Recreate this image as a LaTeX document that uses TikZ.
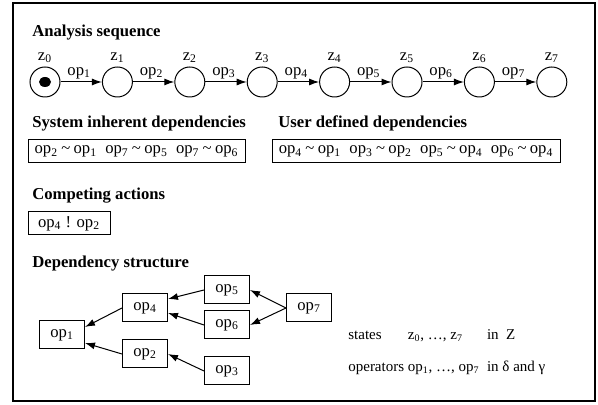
\documentclass[tikz,border=0pt]{standalone}
\usepackage{fontspec}
\setmainfont{Liberation Serif}
\usetikzlibrary{arrows.meta}

\newcommand{\opi}[1]{op\textsubscript{#1}}
\newcommand{\rel}{\hspace{0.2em}\textasciitilde\hspace{0.2em}}
\newcommand{\gap}{\hspace{0.5em}}

\tikzset{
  state/.style={draw, circle, minimum size=18pt, inner sep=0pt, line width=0.6pt},
  head/.style={anchor=base west, inner sep=0pt, font=\bfseries},
  depbox/.style={draw, line width=0.6pt, minimum height=13.8pt, inner sep=2pt},
  opbox/.style={draw, line width=0.6pt, minimum width=27pt, minimum height=16.8pt, inner sep=2pt},
  dep/.style={-{Latex[length=6pt,width=4.2pt]}, line width=0.6pt},
}

\begin{document}
\begin{tikzpicture}[x=0.6pt, y=-0.6pt]
  \useasboundingbox (0,0) rectangle (598,405);
  \draw[line width=1.2pt] (13,3) rectangle (595,401);

  \node[head] (hseq) at (32,37) {Analysis sequence};
  \foreach \i in {0,...,7}
    \node[state, label={[inner sep=2pt]above:z\textsubscript{\i}}] (z\i) at ({45+72.4*\i},82) {};
  \fill (z0) ellipse (6 and 5);
  \foreach \i [count=\j] in {0,...,6}
    \draw[dep] (z\i) -- (z\j) node[pos=0.45, above, inner sep=1.5pt] {\opi{\j}};

  \node[head] (hsys) at (32,128) {System inherent dependencies};
  \node[depbox, minimum width=130.2pt] (sys) at (136.5,151.5)
    {\opi{2}\rel\opi{1}\gap\opi{7}\rel\opi{5}\gap\opi{7}\rel\opi{6}};
  \node[head] (husr) at (278,128) {User defined dependencies};
  \node[depbox, minimum width=172.8pt] (usr) at (416,151.5)
    {\opi{4}\rel\opi{1}\gap\opi{3}\rel\opi{2}\gap\opi{5}\rel\opi{4}\gap\opi{6}\rel\opi{4}};

  \node[head] (hcmp) at (32,200) {Competing actions};
  \node[depbox, minimum width=49.2pt] (cmp) at (69,223.5) {\opi{4} ! \opi{2}};

  \node[head] (hdep) at (32,268) {Dependency structure};
  \node[opbox] (op1) at (62,335) {\opi{1}};
  \node[opbox] (op4) at (145,308) {\opi{4}};
  \node[opbox] (op2) at (145,354) {\opi{2}};
  \node[opbox] (op5) at (227,290) {\opi{5}};
  \node[opbox] (op6) at (227,325) {\opi{6}};
  \node[opbox] (op3) at (227,371) {\opi{3}};
  \node[opbox] (op7) at (309,308) {\opi{7}};
  \draw[dep] (op4.west) -- ([yshift=4.8pt]op1.east);
  \draw[dep] (op2.west) -- ([yshift=-4.8pt]op1.east);
  \draw[dep] (op5.west) -- ([yshift=5.4pt]op4.east);
  \draw[dep] (op6.west) -- ([yshift=-3pt]op4.east);
  \draw[dep] (op3.west) -- (op2.east);
  \draw[dep] (op7.west) -- (op5.east);
  \draw[dep] (op7.west) -- (op6.east);

  \node[anchor=base west, inner sep=0pt, font=\small] (legend) at (348,340)
    {\begin{tabular}[t]{@{}l@{\ }l@{\ \ }l@{}}
      states & z\textsubscript{0}, …, z\textsubscript{7} & in\ \ Z\\[8pt]
      operators & \opi{1}, …, \opi{7} & in δ and γ
    \end{tabular}};
\end{tikzpicture}
\end{document}
